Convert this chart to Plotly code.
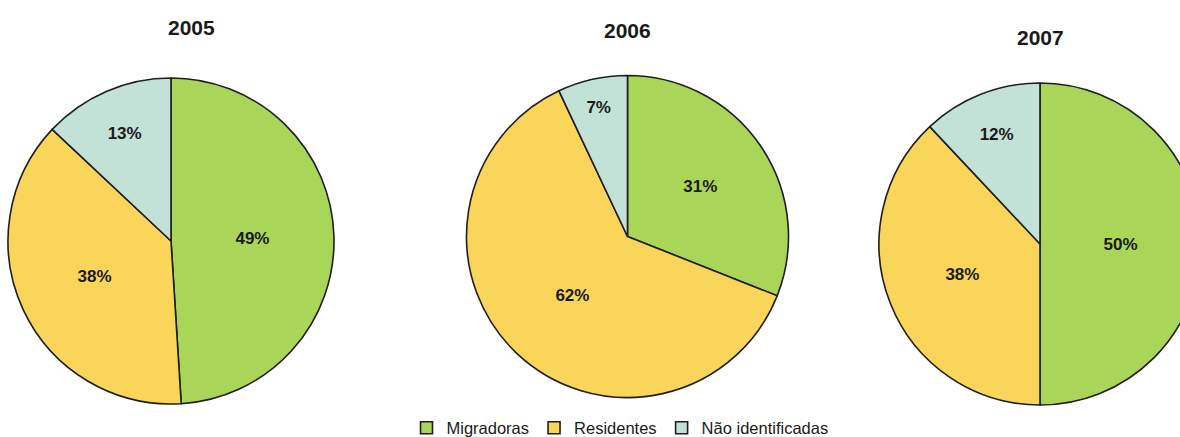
import plotly.graph_objects as go

# Bird species share by status, per survey year
years = ["2005", "2006", "2007"]
categories = ["Migradoras", "Residentes", "Não identificadas"]
values_2005 = [49, 38, 13]
values_2006 = [31, 62, 7]
values_2007 = [50, 38, 12]
colors = ["#a9d658", "#f9d65a", "#c3e2d7"]

W, H = 1204, 437
FONT = "Liberation Sans, Arial, sans-serif"

# pie centres and radii in pixels (x from left, y from top)
layouts = [(171, 241, 163), (627.5, 236.5, 161), (1040, 244, 161)]
title_pos = [(191, 27), (627, 30), (1040, 37)]

fig = go.Figure()
for i, (year, vals) in enumerate(zip(years, [values_2005, values_2006, values_2007])):
    cx, cy, r = layouts[i]
    fig.add_trace(go.Pie(
        labels=categories,
        values=vals,
        sort=False,
        direction="clockwise",
        rotation=0,
        marker=dict(colors=colors, line=dict(color="#1e1e1e", width=1.6)),
        texttemplate="<b>%{percent:.0%}</b>",
        textposition="inside",
        insidetextorientation="horizontal",
        textfont=dict(family=FONT, size=17, color="#1a1a1a"),
        hoverinfo="label+percent",
        showlegend=(i == 0),
        domain=dict(x=[(cx - r) / W, min(1, (cx + r) / W)],
                    y=[1 - (cy + r) / H, 1 - (cy - r) / H]),
    ))
    tx, ty = title_pos[i]
    fig.add_annotation(
        text=f"<b>{year}</b>", x=tx / W, y=1 - ty / H, xref="paper", yref="paper",
        xanchor="center", yanchor="middle", showarrow=False,
        font=dict(family=FONT, size=21, color="#1a1a1a"),
    )

fig.update_layout(
    width=W, height=H,
    margin=dict(l=0, r=0, t=0, b=0, autoexpand=False),
    paper_bgcolor="white",
    plot_bgcolor="white",
    legend=dict(
        orientation="h", x=620 / W, xanchor="center", y=1 - 428 / H, yanchor="middle",
        font=dict(family=FONT, size=16.5, color="#1a1a1a"),
        itemwidth=30, tracegroupgap=0,
    ),
)

fig.write_html("out.html", post_script="document.body.style.overflow='hidden';document.body.style.margin='0';")
